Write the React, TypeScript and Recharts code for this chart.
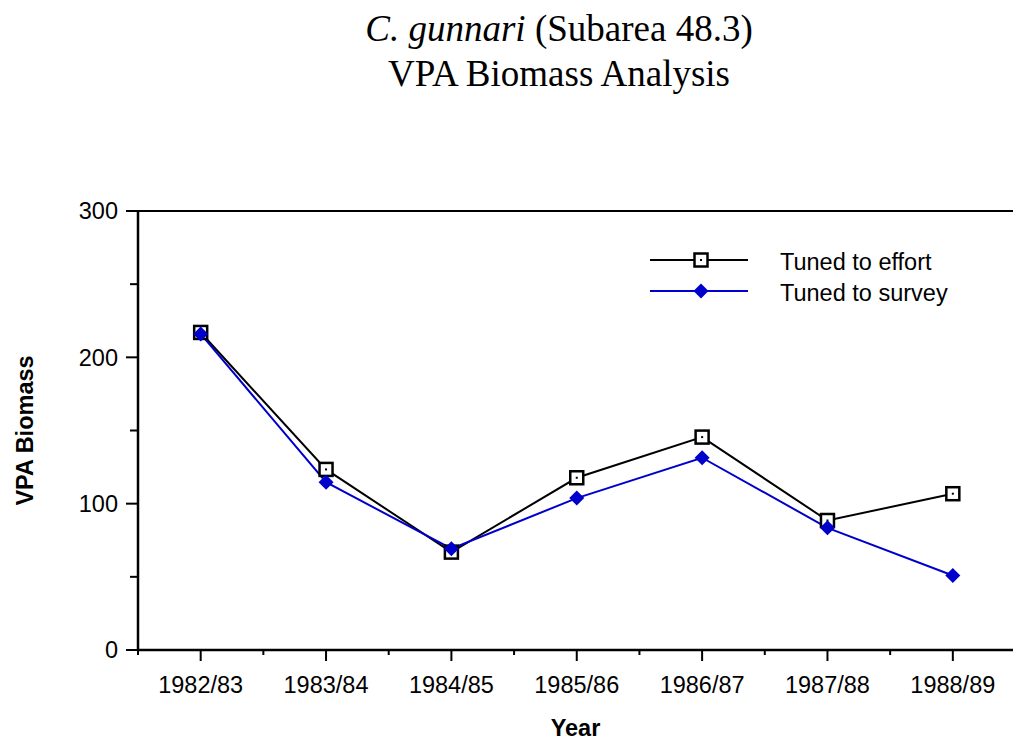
import { LineChart, Line, XAxis, YAxis, ReferenceLine, Legend } from 'recharts'

const years = ['1982/83', '1983/84', '1984/85', '1985/86', '1986/87', '1987/88', '1988/89']
const effort = [217, 123.4, 66.9, 117.7, 145.5, 88.5, 106.8]
const survey = [216, 114.7, 69.2, 103.8, 131.4, 83.5, 50.9]
const yTicks = [0, 50, 100, 150, 200, 250, 300]

const data = years.map((year, i) => ({ i, year, effort: effort[i], survey: survey[i] }))
const xTicks = years.flatMap((_, i) => [i - 0.5, i])

const SANS = '"Liberation Sans", Arial, sans-serif'
const SERIF = '"Liberation Serif", "Times New Roman", serif'
const BLUE = '#0000cc'
const FS = 23.5

function XTick({ x, y, payload }: any) {
  const v = payload.value
  const major = Number.isInteger(v)
  return (
    <g>
      <line x1={x} x2={x} y1={y} y2={y + (major ? 11 : 5)} stroke="#000" strokeWidth={2} />
      {major && (
        <text x={x} y={y + 43} textAnchor="middle" fontSize={FS} fontFamily={SANS} fill="#000">
          {years[v]}
        </text>
      )}
    </g>
  )
}

function YTick({ x, y, payload }: any) {
  const v = payload.value
  const major = v % 100 === 0
  return (
    <g>
      <line x1={x - (major ? 12 : 8)} x2={x} y1={y} y2={y} stroke="#000" strokeWidth={2} />
      {major && (
        <text x={x - 20} y={y} dy="0.36em" textAnchor="end" fontSize={FS} fontFamily={SANS} fill="#000">
          {v}
        </text>
      )}
    </g>
  )
}

function SquareDot({ cx, cy }: any) {
  if (cx == null || cy == null) return null
  return (
    <g>
      <rect x={cx - 6.5} y={cy - 6.5} width={13} height={13} fill="#fff" stroke="#000" strokeWidth={2.5} />
      <rect x={cx - 1} y={cy - 1} width={2} height={2} fill="#000" />
    </g>
  )
}

function DiamondDot({ cx, cy }: any) {
  if (cx == null || cy == null) return null
  return <polygon points={`${cx},${cy - 7.5} ${cx + 7.5},${cy} ${cx},${cy + 7.5} ${cx - 7.5},${cy}`} fill={BLUE} />
}

function LegendContent({ payload }: any) {
  return (
    <div>
      {(payload || []).map((entry: any) => (
        <div key={entry.value} style={{ display: 'flex', alignItems: 'center', height: 31 }}>
          <svg width={98} height={31}>
            <line x1={0} x2={98} y1={15} y2={15} stroke={entry.color} strokeWidth={2} />
            {entry.dataKey === 'effort' ? <SquareDot cx={51} cy={15} /> : <DiamondDot cx={51} cy={15} />}
          </svg>
          <span style={{ marginLeft: 32, fontSize: FS, fontFamily: SANS, paddingTop: 4 }}>{entry.value}</span>
        </div>
      ))}
    </div>
  )
}

export default function App() {
  return (
    <div style={{ position: 'absolute', left: 0, top: 0, width: 1013, height: 740, overflow: 'hidden', background: '#fff' }}>
      <div style={{ position: 'absolute', left: 0, width: 1118, top: 6, textAlign: 'center', fontFamily: SERIF, fontSize: 37, lineHeight: '45px' }}>
        <div>
          <i>C. gunnari</i> (Subarea 48.3)
        </div>
        <div>VPA Biomass Analysis</div>
      </div>
      <LineChart width={1013} height={740} data={data} margin={{ top: 211, right: 0, bottom: 0, left: 0 }}>
        <XAxis
          dataKey="i"
          type="number"
          domain={[-0.5, 6.48]}
          allowDataOverflow
          ticks={xTicks}
          interval={0}
          tickSize={0}
          tickMargin={0}
          tickLine={false}
          tick={<XTick />}
          height={90}
          axisLine={{ stroke: '#000', strokeWidth: 2.5 }}
          label={{ value: 'Year', position: 'insideBottom', offset: 4, style: { fontFamily: SANS, fontSize: FS, fontWeight: 'bold', fill: '#000' } }}
        />
        <YAxis
          type="number"
          domain={[0, 300]}
          ticks={yTicks}
          interval={0}
          tickSize={0}
          tickMargin={0}
          tickLine={false}
          tick={<YTick />}
          width={138}
          axisLine={{ stroke: '#000', strokeWidth: 2.5 }}
          label={{ value: 'VPA Biomass', angle: -90, position: 'insideLeft', offset: 25, style: { textAnchor: 'middle', fontFamily: SANS, fontSize: FS, fontWeight: 'bold', fill: '#000' } }}
        />
        <ReferenceLine y={300} stroke="#000" strokeWidth={2} />
        <Legend
          layout="vertical"
          align="center"
          verticalAlign="middle"
          content={<LegendContent />}
          wrapperStyle={{ position: 'absolute', left: 650, top: 245, width: 360, height: 'auto' }}
        />
        <Line
          dataKey="effort"
          name="Tuned to effort"
          stroke="#000"
          strokeWidth={2}
          dot={<SquareDot />}
          activeDot={false}
          isAnimationActive={false}
        />
        <Line
          dataKey="survey"
          name="Tuned to survey"
          stroke={BLUE}
          strokeWidth={2}
          dot={<DiamondDot />}
          activeDot={false}
          isAnimationActive={false}
        />
      </LineChart>
    </div>
  )
}
